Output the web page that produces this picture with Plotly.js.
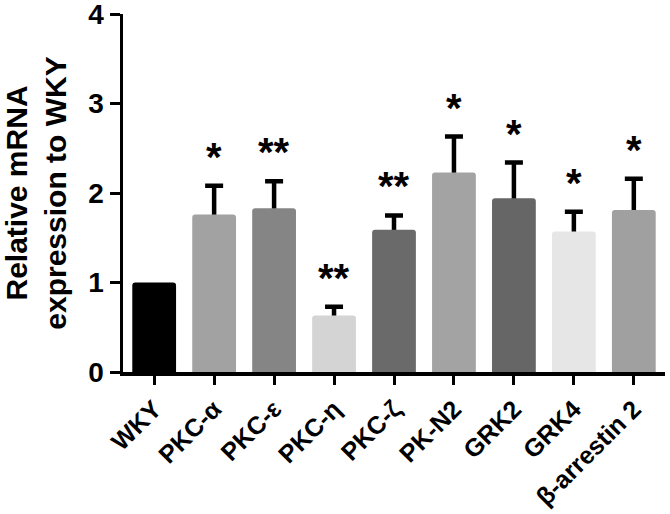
<!DOCTYPE html>
<html>
<head>
<meta charset="utf-8">
<script src="https://cdn.plot.ly/plotly-3.0.1.min.js"></script>
<style>
  body { margin: 0; background: #fff; }
  #plot { width: 670px; height: 514px; }
</style>
</head>
<body>
<div id="plot"></div>
<script>
const categories = ['WKY', 'PKC-α', 'PKC-ε', 'PKC-η', 'PKC-ζ', 'PK-N2', 'GRK2', 'GRK4', 'β-arrestin 2'];
const means = [1.0, 1.76, 1.83, 0.63, 1.59, 2.23, 1.94, 1.57, 1.81];
const sem = [null, 0.32, 0.30, 0.10, 0.16, 0.40, 0.40, 0.22, 0.35];
const stars = ['', '*', '**', '**', '**', '*', '*', '*', '*'];
const barColors = ['#000000', '#a2a2a2', '#858585', '#d4d4d4', '#6a6a6a', '#a3a3a3', '#666666', '#e6e6e6', '#a0a0a0'];

const FONT = 'Liberation Sans, Arial, Helvetica, sans-serif';

function drawChart() {
  const withErr = categories.map((c, i) => i).filter(i => sem[i] != null);

  // error bars go in a hidden trace underneath, so the real bars hide the lower cap
  const errTrace = {
    type: 'bar',
    x: withErr.map(i => categories[i]),
    y: withErr.map(i => means[i]),
    marker: { color: 'rgba(0,0,0,0)' },
    error_y: {
      type: 'data',
      symmetric: false,
      array: withErr.map(i => sem[i]),
      arrayminus: withErr.map(() => 0.06),
      color: '#000',
      thickness: 4.5,
      width: 9
    },
    hoverinfo: 'skip',
    showlegend: false
  };

  const barTrace = {
    type: 'bar',
    x: categories,
    y: means,
    marker: { color: barColors, line: { width: 0 }, cornerradius: 3 },
    showlegend: false
  };

  const annotations = categories.map((c, i) => ({
    x: c,
    y: means[i] + (sem[i] || 0),
    text: stars[i],
    showarrow: false,
    yanchor: 'bottom',
    yshift: 5,
    font: { family: FONT, size: 40, color: '#000', weight: 'bold' }
  })).filter((a, i) => stars[i]);

  Plotly.newPlot('plot', [errTrace, barTrace], {
    width: 670,
    height: 514,
    margin: { l: 123, r: 5, t: 14, b: 142 },
    paper_bgcolor: '#fff',
    plot_bgcolor: '#fff',
    barmode: 'overlay',
    bargap: 0.27,
    font: { family: FONT, color: '#000', weight: 'bold' },
    xaxis: {
      type: 'category',
      categoryorder: 'array',
      categoryarray: categories,
      range: [-0.52, 8.52],
      showline: true,
      linewidth: 3.5,
      linecolor: '#000',
      ticks: 'outside',
      ticklen: 9,
      tickwidth: 3,
      tickcolor: '#000',
      tickangle: -45,
      tickfont: { family: FONT, size: 25, weight: 'bold' },
      showgrid: false,
      automargin: false
    },
    yaxis: {
      range: [0, 4],
      tickvals: [0, 1, 2, 3, 4],
      showline: true,
      linewidth: 3.5,
      linecolor: '#000',
      ticks: 'outside',
      ticklen: 10,
      tickwidth: 3,
      tickcolor: '#000',
      tickfont: { family: FONT, size: 28, weight: 'bold' },
      ticklabeloverflow: 'allow',
      showgrid: false,
      zeroline: false,
      automargin: false,
      title: {
        text: 'Relative mRNA<br>expression to WKY',
        font: { family: FONT, size: 30, weight: 'bold' },
        standoff: 14
      }
    },
    annotations: annotations
  }, { staticPlot: true });
}

drawChart();
</script>
</body>
</html>
